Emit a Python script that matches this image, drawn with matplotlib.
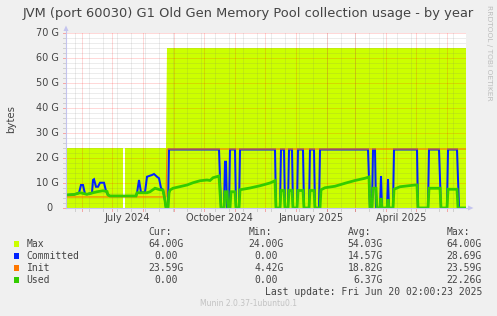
import matplotlib
matplotlib.use("Agg")
import matplotlib.pyplot as plt
import matplotlib.dates as mdates
import numpy as np
import pandas as pd
from matplotlib.patches import Rectangle, Polygon
from matplotlib.lines import Line2D

# ---------------- data ----------------
title = "JVM (port 60030) G1 Old Gen Memory Pool collection usage - by year"
y_label = "bytes"
start_date = "2024-05-16"
end_date = "2025-06-20"

y_ticks = [0, 10, 20, 30, 40, 50, 60, 70]
y_tick_labels = ["0  ", "10 G", "20 G", "30 G", "40 G", "50 G", "60 G", "70 G"]
x_label_months = ["2024-07-01", "2024-10-01", "2025-01-01", "2025-04-01"]
x_tick_labels = ["July 2024", "October 2024", "January 2025", "April 2025"]

max_dates = ["2024-05-16", "2024-07-12", "2024-07-13", "2024-07-14", "2024-08-24",
             "2024-08-25", "2025-06-20"]
max_vals = [24, 24, np.nan, 24, 24, 64, 64]

init_dates = ["2024-05-16", "2024-08-24", "2024-08-25", "2025-06-20"]
init_vals = [4.42, 4.42, 23.59, 23.59]

committed_dates = [
    "2024-05-16", "2024-05-24", "2024-05-29", "2024-05-31", "2024-06-02", "2024-06-04",
    "2024-06-06", "2024-06-09", "2024-06-11", "2024-06-12", "2024-06-13", "2024-06-15",
    "2024-06-17", "2024-06-19", "2024-06-23", "2024-06-25", "2024-06-27", "2024-06-29",
    "2024-07-25", "2024-07-26", "2024-07-28", "2024-07-30", "2024-08-03", "2024-08-05",
    "2024-08-10", "2024-08-12", "2024-08-15", "2024-08-17", "2024-08-19", "2024-08-21",
    "2024-08-23", "2024-08-24", "2024-08-26", "2024-08-27", "2024-10-16", "2024-10-18",
    "2024-10-21", "2024-10-22", "2024-10-23", "2024-10-24", "2024-10-26", "2024-10-27",
    "2024-11-01", "2024-11-02", "2024-11-05", "2024-11-06", "2024-12-11", "2024-12-12",
    "2024-12-16", "2024-12-17", "2024-12-20", "2024-12-21", "2024-12-24", "2024-12-25",
    "2024-12-28", "2024-12-29", "2025-01-02", "2025-01-03", "2025-01-08", "2025-01-09",
    "2025-01-14", "2025-01-15", "2025-01-19", "2025-01-20", "2025-01-24", "2025-01-25",
    "2025-03-14", "2025-03-16", "2025-03-18", "2025-03-19", "2025-03-21", "2025-03-22",
    "2025-03-26", "2025-03-27", "2025-03-28", "2025-04-02", "2025-04-03", "2025-04-04",
    "2025-04-08", "2025-04-09", "2025-05-02", "2025-05-03", "2025-05-13", "2025-05-14",
    "2025-05-24", "2025-05-26", "2025-06-01", "2025-06-02", "2025-06-11", "2025-06-13",
    "2025-06-20"]
committed_vals = [
    5.2, 5.4, 6.0, 9.2, 9.2, 5.6,
    5.5, 5.8, 6.0, 11.2, 11.5, 8.5,
    8.5, 10.1, 10.1, 6.8, 5.2, 4.8,
    4.8, 6.0, 11.2, 6.2, 6.3, 12.5,
    13.2, 13.6, 12.5, 11.9, 8.0, 7.2,
    3.0, 0, 0, 23.4, 23.4, 0,
    0, 18.5, 18.5, 0, 0, 23.4,
    23.4, 0, 0, 23.4, 23.4, 0,
    0, 23.4, 23.4, 0, 0, 23.4,
    23.4, 0, 0, 23.4, 23.4, 0,
    0, 23.4, 23.4, 0, 0, 23.4,
    23.4, 0, 0, 23.4, 23.4, 0,
    0, 12.8, 0, 0, 11.5, 0,
    0, 23.4, 23.4, 0, 0, 23.4,
    23.4, 0, 0, 23.4, 23.4, 0,
    0]

used_dates = [
    "2024-05-16", "2024-05-24", "2024-05-30", "2024-06-06", "2024-06-09", "2024-06-16",
    "2024-06-22", "2024-06-26", "2024-06-27", "2024-06-29", "2024-07-25", "2024-07-26",
    "2024-08-05", "2024-08-08", "2024-08-13", "2024-08-18", "2024-08-21", "2024-08-23",
    "2024-08-24", "2024-08-26", "2024-08-27", "2024-08-28", "2024-08-31", "2024-09-14",
    "2024-09-20", "2024-09-27", "2024-10-04", "2024-10-07", "2024-10-10", "2024-10-16",
    "2024-10-18", "2024-10-21", "2024-10-22", "2024-10-24", "2024-10-25", "2024-10-27",
    "2024-10-28", "2024-11-01", "2024-11-02", "2024-11-05", "2024-11-06", "2024-11-16",
    "2024-11-26", "2024-12-06", "2024-12-11", "2024-12-12", "2024-12-16", "2024-12-17",
    "2024-12-20", "2024-12-21", "2024-12-24", "2024-12-25", "2024-12-28", "2024-12-29",
    "2025-01-02", "2025-01-03", "2025-01-08", "2025-01-09", "2025-01-14", "2025-01-15",
    "2025-01-19", "2025-01-20", "2025-01-25", "2025-01-26", "2025-01-30", "2025-02-09",
    "2025-02-19", "2025-03-01", "2025-03-11", "2025-03-15", "2025-03-16", "2025-03-18",
    "2025-03-19", "2025-03-22", "2025-03-23", "2025-03-26", "2025-03-27", "2025-03-28",
    "2025-04-02", "2025-04-03", "2025-04-04", "2025-04-08", "2025-04-09", "2025-04-15",
    "2025-04-30", "2025-05-02", "2025-05-03", "2025-05-13", "2025-05-14", "2025-05-25",
    "2025-05-26", "2025-06-01", "2025-06-02", "2025-06-11", "2025-06-12", "2025-06-20"]
used_vals = [
    5.2, 5.4, 6.1, 5.5, 5.8, 6.5,
    6.9, 6.6, 5.2, 4.8, 4.8, 6.1,
    6.1, 6.5, 7.9, 7.3, 7.2, 3.0,
    0, 0, 6.0, 7.2, 7.9, 9.2,
    10.1, 10.9, 11.2, 11.0, 12.1, 12.8,
    0, 0, 6.5, 6.5, 0, 0,
    6.5, 6.5, 0, 0, 7.3, 8.0,
    8.9, 10.0, 10.9, 0, 0, 7.0,
    7.0, 0, 0, 7.0, 7.0, 0,
    0, 7.0, 7.0, 0, 0, 7.0,
    7.0, 0, 0, 7.3, 8.1, 8.7,
    9.9, 11.0, 11.9, 12.4, 0, 0,
    7.9, 7.9, 0, 0, 4.0, 0,
    0, 3.5, 0, 0, 7.5, 8.5,
    9.2, 9.2, 0, 0, 7.9, 7.9,
    0, 0, 7.5, 7.5, 0, 0]

legend_names = ["Max", "Committed", "Init", "Used"]
legend_colors = ["#CCFF00", "#0022FF", "#FF7700", "#33CC00"]
legend_headers = ["Cur:", "Min:", "Avg:", "Max:"]
legend_cur = ["64.00G", "0.00", "23.59G", "0.00"]
legend_min = ["24.00G", "0.00", "4.42G", "0.00"]
legend_avg = ["54.03G", "14.57G", "18.82G", "6.37G"]
legend_max = ["64.00G", "28.69G", "23.59G", "22.26G"]
last_update = "Last update: Fri Jun 20 02:00:23 2025"
footer = "Munin 2.0.37-1ubuntu0.1"
side_text = "RRDTOOL / TOBI OETIKER"

# ---------------- figure ----------------
W, H, DPI = 497, 316, 100
fig = plt.figure(figsize=(W / DPI, H / DPI), dpi=DPI, facecolor="#F0F0F0")

def fx(x):
    return x / W

def fy(y):
    return 1 - y / H

L, R, T, B = 66, 466, 33, 208
ax = fig.add_axes([fx(L), fy(B), (R - L) / W, (B - T) / H])
ax.set_facecolor("white")
for s in ax.spines.values():
    s.set_visible(False)

t0, t1 = pd.Timestamp(start_date), pd.Timestamp(end_date)
ax.set_xlim(t0, t1)
ax.set_ylim(0, 70)

TXT = "#444444"
RED = (1.0, 0.0, 0.0, 0.30)
GRAY = (0.45, 0.45, 0.45, 0.26)
DOT = (0, (1, 1))

# area
md = pd.to_datetime(max_dates)
ax.fill_between(md, 0, np.array(max_vals, dtype=float), color=legend_colors[0],
                lw=0, zorder=1)

# grid
for v in range(2, 70, 2):
    if v % 10:
        ax.axhline(v, color=GRAY, lw=0.72, ls=DOT, zorder=2)
for v in range(10, 71, 10):
    ax.axhline(v, color=RED, lw=0.72, ls=DOT, zorder=2)
minor_days = pd.date_range("2024-05-25", end_date, freq="14D")
month_days = pd.date_range("2024-06-01", end_date, freq="MS")
for d in minor_days:
    ax.axvline(d, color=GRAY, lw=0.72, ls=DOT, zorder=2)
for d in month_days:
    ax.axvline(d, color=RED, lw=0.72, ls=DOT, zorder=2)

# lines
ax.plot(pd.to_datetime(committed_dates), committed_vals, color=legend_colors[1],
        lw=1.45, zorder=3, solid_joinstyle="miter")
ax.plot(pd.to_datetime(init_dates), init_vals, color=legend_colors[2], lw=0.8, zorder=4)
ax.plot(pd.to_datetime(used_dates), used_vals, color=legend_colors[3], lw=2.0, zorder=5,
        solid_joinstyle="miter")

# ticks off; draw manually
ax.set_xticks([])
ax.set_yticks([])

# y tick marks and labels
ytr = ax.get_yaxis_transform()
for v in range(0, 71, 2):
    c = RED if v % 10 == 0 else GRAY
    ax.plot([-0.008, 0], [v, v], transform=ytr, color=c, lw=0.72, clip_on=False, zorder=6)
for v, lab in zip(y_ticks, y_tick_labels):
    ax.text(-6.7 / 400, v, lab, transform=ytr, ha="right", va="center",
            fontsize=7.0, color=TXT, family="DejaVu Sans")

# x tick marks and labels
xtr = ax.get_xaxis_transform()
for d in minor_days:
    ax.plot([d, d], [-3 / 175, 0], transform=xtr, color=GRAY, lw=0.72, clip_on=False)
for d in month_days:
    ax.plot([d, d], [-3 / 175, 0], transform=xtr, color=RED, lw=0.72, clip_on=False)
for m, lab in zip(x_label_months, x_tick_labels):
    ax.text(pd.Timestamp(m) + pd.Timedelta(days=15), -9.7 / 175, lab, transform=xtr,
            ha="center", va="center", fontsize=7.0, color=TXT, family="DejaVu Sans")

# axes lines with arrows
AX = "#C4C4EE"
fig.add_artist(Line2D([fx(L), fx(469)], [fy(B), fy(B)], color=AX, lw=0.8))
fig.add_artist(Line2D([fx(L), fx(L)], [fy(B), fy(29)], color=AX, lw=0.8))
fig.add_artist(Polygon([[fx(468), fy(205.5)], [fx(473.5), fy(B)], [fx(468), fy(210.5)]],
                       closed=True, color=AX, lw=0))
fig.add_artist(Polygon([[fx(63.5), fy(31)], [fx(L), fy(25.5)], [fx(68.5), fy(31)]],
                       closed=True, color=AX, lw=0))

# texts
fig.text(fx(248.5), fy(14), title, ha="center", va="center", fontsize=9.35, color=TXT,
         family="DejaVu Sans")
fig.text(fx(11), fy(119), y_label, ha="center", va="center", rotation=90, fontsize=7.3,
         color=TXT, family="DejaVu Sans")
fig.text(fx(488.5), fy(5), side_text, ha="center", va="top", rotation=270, fontsize=5.4,
         color="#BDBDBD", family="DejaVu Sans")

# legend
MONO = "DejaVu Sans Mono"
FS = 7.05
CW = 5.9
col_ends = [184, 284, 383, 482]
rows_y = [244, 256, 268, 280]
for hx, h in zip(col_ends, legend_headers):
    fig.text(fx(hx - 2 * CW), fy(232), h, ha="right", va="center", fontsize=FS,
             color=TXT, family=MONO)
for i, (name, col) in enumerate(zip(legend_names, legend_colors)):
    y = rows_y[i]
    fig.add_artist(Rectangle((fx(14), fy(y + 2.6)), 5.2 / W, 5.2 / H, color=col, lw=0,
                             transform=fig.transFigure))
    fig.text(fx(26.5), fy(y), name, ha="left", va="center", fontsize=FS, color=TXT,
             family=MONO)
    vals = [legend_cur[i], legend_min[i], legend_avg[i], legend_max[i]]
    for xe, v in zip(col_ends, vals):
        shift = 0 if v.endswith("G") else CW
        fig.text(fx(xe - shift), fy(y), v, ha="right", va="center", fontsize=FS,
                 color=TXT, family=MONO)
fig.text(fx(482), fy(292), last_update, ha="right", va="center", fontsize=FS, color=TXT,
         family=MONO)
fig.text(fx(248), fy(304), footer, ha="center", va="center", fontsize=5.5,
         color="#C2C2C2", family="DejaVu Sans")

fig.savefig("out.png", dpi=DPI, facecolor=fig.get_facecolor())
